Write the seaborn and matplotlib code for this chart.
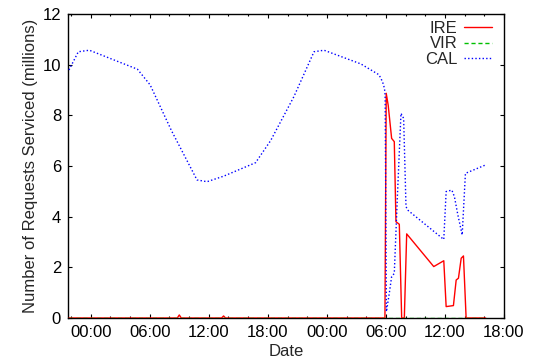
import matplotlib
matplotlib.use("Agg")
import matplotlib.pyplot as plt
import seaborn as sns
import pandas as pd
from matplotlib.ticker import FixedLocator, MultipleLocator

# ---- data (hours since first midnight, millions of requests) ----
ire_hours = [-2.21, 8.8, 9.0, 9.2, 13.3, 13.5, 13.7, 29.9, 30.03, 30.23, 30.58,
             30.85, 31.02, 31.36, 31.6, 31.87, 32.11, 34.86, 35.88, 36.12, 36.86,
             37.14, 37.37, 37.65, 37.88, 38.15, 40.12]
ire_values = [0.0, 0.0, 0.12, 0.0, 0.0, 0.08, 0.0, 0.0, 8.87, 8.4, 7.09,
              6.96, 3.8, 3.7, 0.0, 0.0, 3.32, 2.03, 2.26, 0.45, 0.49,
              1.5, 1.57, 2.36, 2.45, 0.0, 0.0]

vir_hours = [-2.21, 10.0, 20.0, 30.0, 40.12]
vir_values = [0.0, 0.0, 0.0, 0.0, 0.0]

cal_hours = [-2.21, -1.26, -0.14, 4.75, 6.04, 8.2, 10.8, 11.82, 13.52, 16.75,
             18.28, 20.65, 22.69, 23.71, 27.45, 29.3, 29.65, 29.85, 29.92, 30.05,
             30.34, 30.58, 30.85, 31.15, 31.53, 31.8, 32.04, 32.21, 35.88, 36.12,
             36.7, 36.96, 37.31, 37.75, 38.08, 40.12]
cal_values = [9.79, 10.51, 10.57, 9.82, 9.2, 7.4, 5.45, 5.38, 5.6, 6.13,
              7.0, 8.74, 10.51, 10.57, 10.03, 9.6, 9.33, 9.07, 8.8, 0.25,
              0.97, 1.63, 1.76, 4.66, 8.08, 7.88, 4.4, 4.26, 3.1, 4.99,
              5.05, 4.79, 4.07, 3.28, 5.71, 6.04]

tick_hours = [0, 6, 12, 18, 24, 30, 36, 42]
tick_labels = ["00:00", "06:00", "12:00", "18:00", "00:00", "06:00", "12:00", "18:00"]
y_ticks = [0, 2, 4, 6, 8, 10, 12]

ire_df = pd.DataFrame({"hour": ire_hours, "value": ire_values})
vir_df = pd.DataFrame({"hour": vir_hours, "value": vir_values})
cal_df = pd.DataFrame({"hour": cal_hours, "value": cal_values})

sns.set_style("ticks")
plt.rcParams['font.family'] = ['Liberation Sans', 'DejaVu Sans']

fig = plt.figure(figsize=(5.34, 3.63), dpi=100)
ax = fig.add_axes([68 / 534, 1 - 318 / 363, (504 - 68) / 534, (318 - 14) / 363])

sns.lineplot(data=ire_df, x="hour", y="value", ax=ax, color="#ff0000",
             linewidth=1.0, estimator=None, sort=False, label="IRE", zorder=3)
sns.lineplot(data=vir_df, x="hour", y="value", ax=ax, color="#00c000",
             linewidth=1.0, estimator=None, sort=False, label="VIR", zorder=3)
sns.lineplot(data=cal_df, x="hour", y="value", ax=ax, color="#0000ff",
             linewidth=1.0, estimator=None, sort=False, label="CAL", zorder=3)
ax.lines[1].set_linestyle((0, (3, 2)))
ax.lines[2].set_linestyle((0, (1, 1.6)))

ax.set_xlim(-2.31, 42)
ax.set_ylim(0, 12)
ax.xaxis.set_major_locator(FixedLocator(tick_hours))
ax.set_xticklabels(tick_labels)
ax.xaxis.set_minor_locator(MultipleLocator(2))
ax.set_yticks(y_ticks)

ax.tick_params(which="both", direction="in", top=True, right=True,
               labelsize=12, colors="black", width=0.8)
ax.tick_params(which="major", length=3.2, pad=5)
ax.tick_params(which="minor", length=1.6)
for s in ax.spines.values():
    s.set_linewidth(1.0)
    s.set_color("black")

ax.set_xlabel("Date", fontsize=12, labelpad=3)
ax.set_ylabel("Number of Requests Serviced (millions)", fontsize=12, labelpad=3)

leg = ax.legend(loc="upper right", bbox_to_anchor=(0.9885, 1.0), frameon=False,
                markerfirst=False, fontsize=12, handlelength=1.7, handletextpad=0.4,
                labelspacing=0.05, borderaxespad=0.2, borderpad=0.2)

fig.savefig("out.png", dpi=100)
